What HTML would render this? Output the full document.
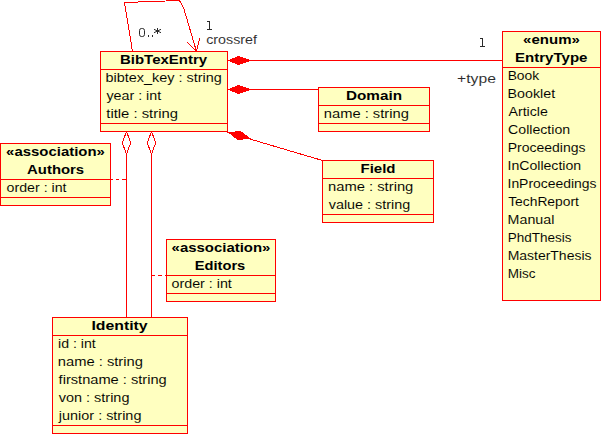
<!DOCTYPE html>
<html><head><meta charset="utf-8"><style>
html,body{margin:0;padding:0;background:#fff;width:601px;height:434px;overflow:hidden}
svg{display:block}
text{font-family:"Liberation Sans",sans-serif}
</style></head><body>
<svg width="601" height="434" viewBox="0 0 601 434">
<g shape-rendering="crispEdges">
<rect x="207" y="21" width="3" height="1" fill="#2a2a2a"/>
<rect x="209" y="21" width="1" height="9" fill="#2a2a2a"/>
<rect x="207" y="29" width="5" height="1" fill="#2a2a2a"/>
<rect x="148" y="35" width="1" height="2" fill="#2a2a2a"/>
<rect x="152" y="35" width="1" height="2" fill="#2a2a2a"/>
<rect x="157" y="28" width="1" height="6" fill="#2a2a2a"/>
<rect x="480" y="38" width="3" height="1" fill="#2a2a2a"/>
<rect x="482" y="38" width="1" height="9" fill="#2a2a2a"/>
<rect x="480" y="46" width="5" height="1" fill="#2a2a2a"/>
<path d="M132.5,51.5 L124.5,2.5 L179.5,0.5 L183.5,7.5 L196.5,51.5" fill="none" stroke="#ff0000" stroke-width="1"/>
<path d="M187.5,42.5 L196.5,51.5 L199.5,38.5" fill="none" stroke="#ff0000" stroke-width="1"/>
<path d="M228,60.5 L502,60.5" fill="none" stroke="#ff0000" stroke-width="1"/>
<rect x="237" y="56" width="3" height="1" fill="#ff0000"/>
<rect x="235" y="57" width="8" height="1" fill="#ff0000"/>
<rect x="232" y="58" width="14" height="1" fill="#ff0000"/>
<rect x="230" y="59" width="19" height="1" fill="#ff0000"/>
<rect x="230" y="60" width="19" height="1" fill="#ff0000"/>
<rect x="230" y="61" width="19" height="1" fill="#ff0000"/>
<rect x="232" y="62" width="14" height="1" fill="#ff0000"/>
<rect x="235" y="63" width="8" height="1" fill="#ff0000"/>
<rect x="237" y="64" width="3" height="1" fill="#ff0000"/>
<path d="M228,89.5 L318,89.5" fill="none" stroke="#ff0000" stroke-width="1"/>
<rect x="237" y="85" width="3" height="1" fill="#ff0000"/>
<rect x="235" y="86" width="8" height="1" fill="#ff0000"/>
<rect x="232" y="87" width="14" height="1" fill="#ff0000"/>
<rect x="230" y="88" width="19" height="1" fill="#ff0000"/>
<rect x="230" y="89" width="19" height="1" fill="#ff0000"/>
<rect x="230" y="90" width="19" height="1" fill="#ff0000"/>
<rect x="232" y="91" width="14" height="1" fill="#ff0000"/>
<rect x="235" y="92" width="8" height="1" fill="#ff0000"/>
<rect x="237" y="93" width="3" height="1" fill="#ff0000"/>
<path d="M227.5,132.4 L322.5,160.5" fill="none" stroke="#ff0000" stroke-width="1"/>
<path d="M227.5,132.2 L240.8,131.0 L251,138.8 L237.7,140 Z" fill="#ff0000" stroke="none"/>
<path d="M126.5,131.5 L122.5,142.3 L122.5,143.5 L126.5,154 L130.5,143.5 L130.5,142.3 Z" fill="none" stroke="#ff0000" stroke-width="1"/>
<path d="M126.5,153.5 L126.5,317" fill="none" stroke="#ff0000" stroke-width="1"/>
<path d="M151.5,131.5 L147.5,142.3 L147.5,143.5 L151.5,154 L155.5,143.5 L155.5,142.3 Z" fill="none" stroke="#ff0000" stroke-width="1"/>
<path d="M151.5,153.5 L151.5,317" fill="none" stroke="#ff0000" stroke-width="1"/>
<rect x="110" y="179" width="3" height="1" fill="#ff0000"/>
<rect x="116" y="179" width="3" height="1" fill="#ff0000"/>
<rect x="122" y="179" width="4" height="1" fill="#ff0000"/>
<rect x="151" y="275" width="4" height="1" fill="#ff0000"/>
<rect x="158" y="275" width="4" height="1" fill="#ff0000"/>
<rect x="165" y="275" width="1" height="1" fill="#ff0000"/>
<rect x="100.5" y="51.5" width="127" height="80" fill="#ffffc0" stroke="#ff0000" stroke-width="1"/>
<line x1="100" y1="69.5" x2="228" y2="69.5" stroke="#ff0000"/>
<line x1="100" y1="123.5" x2="228" y2="123.5" stroke="#ff0000"/>
<rect x="318.5" y="87.5" width="111" height="44" fill="#ffffc0" stroke="#ff0000" stroke-width="1"/>
<line x1="318" y1="105.5" x2="430" y2="105.5" stroke="#ff0000"/>
<line x1="318" y1="123.5" x2="430" y2="123.5" stroke="#ff0000"/>
<rect x="322.5" y="160.5" width="111" height="62" fill="#ffffc0" stroke="#ff0000" stroke-width="1"/>
<line x1="322" y1="178.5" x2="434" y2="178.5" stroke="#ff0000"/>
<line x1="322" y1="214.5" x2="434" y2="214.5" stroke="#ff0000"/>
<rect x="0.5" y="143.5" width="110" height="62" fill="#ffffc0" stroke="#ff0000" stroke-width="1"/>
<line x1="0" y1="179.5" x2="111" y2="179.5" stroke="#ff0000"/>
<line x1="0" y1="197.5" x2="111" y2="197.5" stroke="#ff0000"/>
<rect x="166.5" y="239.5" width="109" height="62" fill="#ffffc0" stroke="#ff0000" stroke-width="1"/>
<line x1="166" y1="275.5" x2="276" y2="275.5" stroke="#ff0000"/>
<line x1="166" y1="293.5" x2="276" y2="293.5" stroke="#ff0000"/>
<rect x="52.5" y="317.5" width="135" height="116" fill="#ffffc0" stroke="#ff0000" stroke-width="1"/>
<line x1="52" y1="335.5" x2="188" y2="335.5" stroke="#ff0000"/>
<line x1="52" y1="425.5" x2="188" y2="425.5" stroke="#ff0000"/>
<rect x="502.5" y="31.5" width="98" height="269" fill="#ffffc0" stroke="#ff0000" stroke-width="1"/>
<line x1="502" y1="67.5" x2="601" y2="67.5" stroke="#ff0000"/>
</g>
<g>
<rect x="139.5" y="28.5" width="5" height="8" rx="1.8" ry="2.2" stroke="#2a2a2a" stroke-width="1" fill="none"/>
<path d="M154,29.3 L161,32.7 M154,32.7 L161,29.3" stroke="#2a2a2a" stroke-width="1" fill="none"/>
<text x="119.99" y="64" textLength="87.11" lengthAdjust="spacingAndGlyphs" fill="#000" stroke="#ffffc0" stroke-width="0.0" font-size="13.5" font-weight="bold">BibTexEntry</text>
<text x="105.57" y="81.5" textLength="116.26" lengthAdjust="spacingAndGlyphs" fill="#000" stroke="#ffffc0" stroke-width="0.06" font-size="13.5">bibtex_key : string</text>
<text x="106.47" y="99.5" textLength="54.64" lengthAdjust="spacingAndGlyphs" fill="#000" stroke="#ffffc0" stroke-width="0.06" font-size="13.5">year : int</text>
<text x="106.28" y="117.5" textLength="71.68" lengthAdjust="spacingAndGlyphs" fill="#000" stroke="#ffffc0" stroke-width="0.06" font-size="13.5">title : string</text>
<text x="345.96" y="100" textLength="56.02" lengthAdjust="spacingAndGlyphs" fill="#000" stroke="#ffffc0" stroke-width="0.0" font-size="13.5" font-weight="bold">Domain</text>
<text x="323.82" y="117.5" textLength="85.02" lengthAdjust="spacingAndGlyphs" fill="#000" stroke="#ffffc0" stroke-width="0.06" font-size="13.5">name : string</text>
<text x="360.49" y="173" textLength="35.01" lengthAdjust="spacingAndGlyphs" fill="#000" stroke="#ffffc0" stroke-width="0.0" font-size="13.5" font-weight="bold">Field</text>
<text x="328.02" y="190.5" textLength="85.33" lengthAdjust="spacingAndGlyphs" fill="#000" stroke="#ffffc0" stroke-width="0.06" font-size="13.5">name : string</text>
<text x="328.75" y="208.5" textLength="81.37" lengthAdjust="spacingAndGlyphs" fill="#000" stroke="#ffffc0" stroke-width="0.06" font-size="13.5">value : string</text>
<text x="6.13" y="156" textLength="98.73" lengthAdjust="spacingAndGlyphs" fill="#000" stroke="#ffffc0" stroke-width="0.0" font-size="13.5" font-weight="bold">«association»</text>
<text x="27.10" y="174" textLength="57.04" lengthAdjust="spacingAndGlyphs" fill="#000" stroke="#ffffc0" stroke-width="0.0" font-size="13.5" font-weight="bold">Authors</text>
<text x="6.60" y="191.5" textLength="59.90" lengthAdjust="spacingAndGlyphs" fill="#000" stroke="#ffffc0" stroke-width="0.06" font-size="13.5">order : int</text>
<text x="171.63" y="252" textLength="98.73" lengthAdjust="spacingAndGlyphs" fill="#000" stroke="#ffffc0" stroke-width="0.0" font-size="13.5" font-weight="bold">«association»</text>
<text x="194.75" y="270" textLength="50.51" lengthAdjust="spacingAndGlyphs" fill="#000" stroke="#ffffc0" stroke-width="0.0" font-size="13.5" font-weight="bold">Editors</text>
<text x="171.50" y="287.5" textLength="60.30" lengthAdjust="spacingAndGlyphs" fill="#000" stroke="#ffffc0" stroke-width="0.06" font-size="13.5">order : int</text>
<text x="91.42" y="330" textLength="56.19" lengthAdjust="spacingAndGlyphs" fill="#000" stroke="#ffffc0" stroke-width="0.0" font-size="13.5" font-weight="bold">Identity</text>
<text x="58.05" y="347.5" textLength="37.75" lengthAdjust="spacingAndGlyphs" fill="#000" stroke="#ffffc0" stroke-width="0.06" font-size="13.5">id : int</text>
<text x="57.82" y="365.5" textLength="85.13" lengthAdjust="spacingAndGlyphs" fill="#000" stroke="#ffffc0" stroke-width="0.06" font-size="13.5">name : string</text>
<text x="58.59" y="383.5" textLength="108.15" lengthAdjust="spacingAndGlyphs" fill="#000" stroke="#ffffc0" stroke-width="0.06" font-size="13.5">firstname : string</text>
<text x="58.75" y="401.5" textLength="70.68" lengthAdjust="spacingAndGlyphs" fill="#000" stroke="#ffffc0" stroke-width="0.06" font-size="13.5">von : string</text>
<text x="58.85" y="419.5" textLength="82.58" lengthAdjust="spacingAndGlyphs" fill="#000" stroke="#ffffc0" stroke-width="0.06" font-size="13.5">junior : string</text>
<text x="523.13" y="44" textLength="56.73" lengthAdjust="spacingAndGlyphs" fill="#000" stroke="#ffffc0" stroke-width="0.0" font-size="13.5" font-weight="bold">«enum»</text>
<text x="515.01" y="62" textLength="72.49" lengthAdjust="spacingAndGlyphs" fill="#000" stroke="#ffffc0" stroke-width="0.0" font-size="13.5" font-weight="bold">EntryType</text>
<text x="507.67" y="79.5" textLength="31.51" lengthAdjust="spacingAndGlyphs" fill="#000" stroke="#ffffc0" stroke-width="0.06" font-size="13.5">Book</text>
<text x="507.63" y="97.5" textLength="47.47" lengthAdjust="spacingAndGlyphs" fill="#000" stroke="#ffffc0" stroke-width="0.06" font-size="13.5">Booklet</text>
<text x="508.47" y="115.5" textLength="39.36" lengthAdjust="spacingAndGlyphs" fill="#000" stroke="#ffffc0" stroke-width="0.06" font-size="13.5">Article</text>
<text x="508.08" y="133.5" textLength="62.03" lengthAdjust="spacingAndGlyphs" fill="#000" stroke="#ffffc0" stroke-width="0.06" font-size="13.5">Collection</text>
<text x="507.65" y="151.5" textLength="77.85" lengthAdjust="spacingAndGlyphs" fill="#000" stroke="#ffffc0" stroke-width="0.06" font-size="13.5">Proceedings</text>
<text x="507.50" y="169.5" textLength="73.62" lengthAdjust="spacingAndGlyphs" fill="#000" stroke="#ffffc0" stroke-width="0.06" font-size="13.5">InCollection</text>
<text x="507.52" y="187.5" textLength="88.99" lengthAdjust="spacingAndGlyphs" fill="#000" stroke="#ffffc0" stroke-width="0.06" font-size="13.5">InProceedings</text>
<text x="508.20" y="205.5" textLength="70.70" lengthAdjust="spacingAndGlyphs" fill="#000" stroke="#ffffc0" stroke-width="0.06" font-size="13.5">TechReport</text>
<text x="507.63" y="223.5" textLength="46.72" lengthAdjust="spacingAndGlyphs" fill="#000" stroke="#ffffc0" stroke-width="0.06" font-size="13.5">Manual</text>
<text x="507.69" y="241.5" textLength="63.80" lengthAdjust="spacingAndGlyphs" fill="#000" stroke="#ffffc0" stroke-width="0.06" font-size="13.5">PhdThesis</text>
<text x="507.65" y="259.5" textLength="83.85" lengthAdjust="spacingAndGlyphs" fill="#000" stroke="#ffffc0" stroke-width="0.06" font-size="13.5">MasterThesis</text>
<text x="507.69" y="277.5" textLength="27.76" lengthAdjust="spacingAndGlyphs" fill="#000" stroke="#ffffc0" stroke-width="0.06" font-size="13.5">Misc</text>
<text x="206.19" y="43.8" textLength="50.79" lengthAdjust="spacingAndGlyphs" fill="#2a2a2a" stroke="#fff" stroke-width="0.06" font-size="13.5">crossref</text>
<text x="457.14" y="82.5" textLength="38.76" lengthAdjust="spacingAndGlyphs" fill="#2a2a2a" stroke="#fff" stroke-width="0.06" font-size="13.5">+type</text>
</g>
</svg>
</body></html>
